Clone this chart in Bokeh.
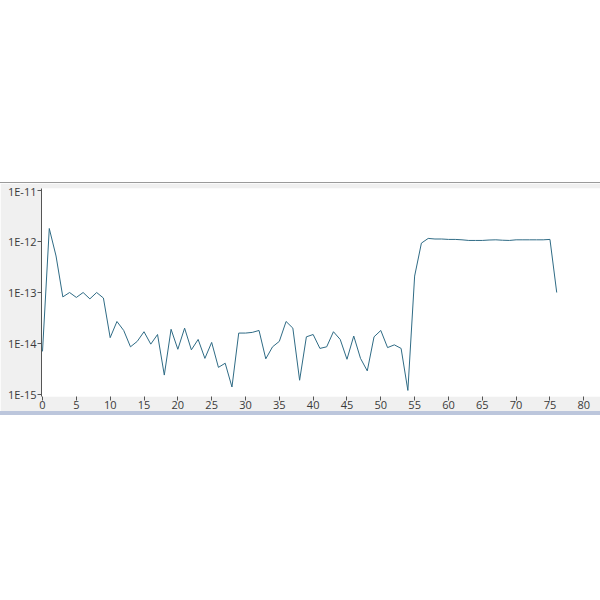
from bokeh.plotting import figure
from bokeh.models import Range1d, FixedTicker, CustomJSTickFormatter, Div, Spacer
from bokeh.layouts import column
from bokeh.embed import file_html
from bokeh.resources import INLINE

x_values = list(range(77))
y_values = [
    7e-15, 1.8e-12, 5.2e-13, 8.2e-14, 1.0e-13, 8e-14, 1.0e-13, 7.5e-14, 1.0e-13, 7.8e-14,
    1.3e-14, 2.7e-14, 1.8e-14, 8.6e-15, 1.1e-14, 1.7e-14, 9.7e-15, 1.5e-14, 2.4e-15, 1.9e-14,
    7.7e-15, 2.0e-14, 7.5e-15, 1.2e-14, 5.1e-15, 1.05e-14, 3.4e-15, 4.1e-15, 1.4e-15, 1.6e-14,
    1.6e-14, 1.65e-14, 1.8e-14, 5e-15, 8.6e-15, 1.1e-14, 2.7e-14, 2.0e-14, 1.9e-15, 1.35e-14,
    1.5e-14, 8e-15, 8.6e-15, 1.7e-14, 1.2e-14, 4.9e-15, 1.4e-14, 5.1e-15, 2.9e-15, 1.35e-14,
    1.8e-14, 8.3e-15, 9.4e-15, 8e-15, 1.2e-15, 2.1e-13, 9.3e-13, 1.15e-12, 1.12e-12, 1.12e-12,
    1.1e-12, 1.1e-12, 1.08e-12, 1.05e-12, 1.05e-12, 1.05e-12, 1.07e-12, 1.08e-12, 1.06e-12, 1.05e-12,
    1.08e-12, 1.08e-12, 1.08e-12, 1.08e-12, 1.08e-12, 1.1e-12, 1.0e-13,
]
x_ticks = list(range(0, 85, 5))
y_ticks = [1e-15, 1e-14, 1e-13, 1e-12, 1e-11]
y_tick_labels = ["1E-15", "1E-14", "1E-13", "1E-12", "1E-11"]

FONT = "Open Sans"
LABEL_COLOR = "#3a3a3a"
PANEL = "#f0f0f0"
W = 600

p = figure(
    width=W, height=228,
    y_axis_type="log",
    x_range=Range1d(-0.15, 82.47),
    y_range=Range1d(10 ** -15.04, 10 ** -10.96),
    output_backend="svg", toolbar_location=None,
    min_border_left=41, min_border_right=0, min_border_top=5, min_border_bottom=0,
    background_fill_color="white", border_fill_color=PANEL,
    outline_line_color=None, margin=0,
)
p.grid.visible = False

p.line(x_values, y_values, line_color="#2f6b85", line_width=1)

xa = p.xaxis[0]
xa.ticker = FixedTicker(ticks=x_ticks)
xa.axis_line_color = None
xa.major_tick_out = 4
xa.major_tick_in = 0
xa.minor_tick_out = 0
xa.minor_tick_in = 0
xa.major_tick_line_color = "#555555"
xa.major_label_standoff = 0
xa.major_label_text_font = FONT
xa.major_label_text_font_size = "11px"
xa.major_label_text_color = LABEL_COLOR

ya = p.yaxis[0]
ya.ticker = FixedTicker(ticks=y_ticks, minor_ticks=[])
ya.formatter = CustomJSTickFormatter(args=dict(tvals=y_ticks, tlabels=y_tick_labels), code="""
for (let i = 0; i < tvals.length; i++) {
  if (Math.abs(Math.log10(tick) - Math.log10(tvals[i])) < 1e-6) return tlabels[i];
}
return "";
""")
ya.axis_line_color = "#555555"
ya.major_tick_out = 4
ya.major_tick_in = 0
ya.minor_tick_out = 0
ya.minor_tick_in = 0
ya.major_tick_line_color = "#555555"
ya.major_label_standoff = 1
ya.major_label_text_font = FONT
ya.major_label_text_font_size = "11px"
ya.major_label_text_color = LABEL_COLOR

top_space = Spacer(width=W, height=182, margin=0)
top_line = Div(width=W, height=1, margin=0, styles={"background-color": "#9a9a9a"})
bottom_bar = Div(width=W, height=4, margin=0, styles={"background-color": "#bcc6dc"})

layout = column(top_space, top_line, p, bottom_bar, spacing=0, margin=0)

open("out.html", "w").write(file_html(layout, INLINE))
